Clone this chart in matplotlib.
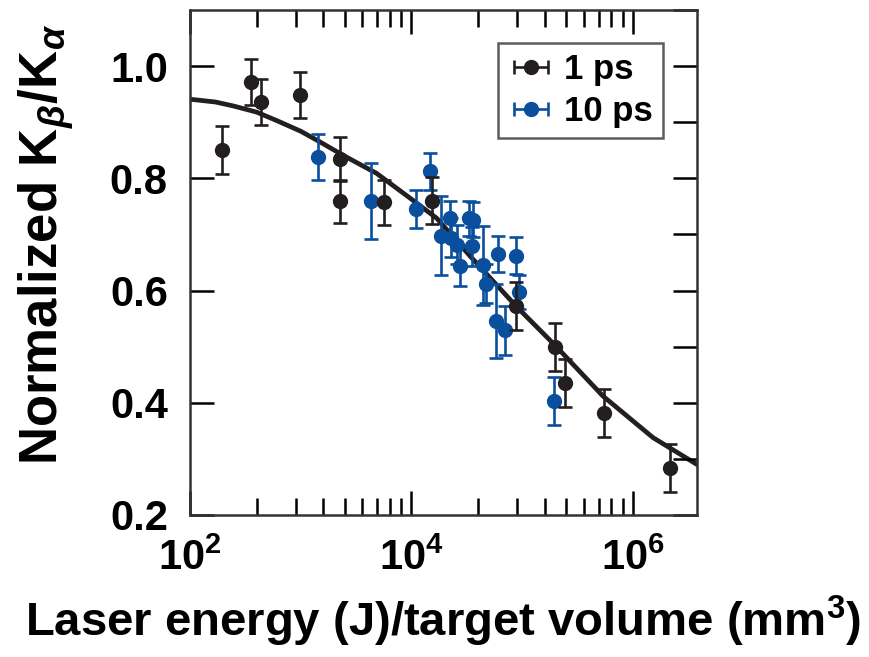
import numpy as np
import matplotlib
matplotlib.use("Agg")
import matplotlib.pyplot as plt
from matplotlib.ticker import FixedLocator, MultipleLocator, NullFormatter

# ==== data ====
# 1 ps shots
x_1ps = [196, 353, 437, 984, 2260, 2260, 5640, 15400, 88800, 197000, 246000, 545000, 2.18e6]
y_1ps = [0.850, 0.971, 0.936, 0.948, 0.835, 0.759, 0.757, 0.760, 0.572, 0.500, 0.435, 0.382, 0.284]
e_1ps = [0.043, 0.041, 0.041, 0.041, 0.039, 0.038, 0.040, 0.042, 0.043, 0.043, 0.043, 0.043, 0.043]

# 10 ps shots
x_10ps = [1420, 4300, 11100, 14800, 18400, 22200, 23000, 25800, 27300, 33200,
          36100, 34900, 44400, 47600, 60600, 88800, 93800, 57800, 69700, 193000]
y_10ps = [0.838, 0.760, 0.745, 0.813, 0.698, 0.729, 0.694, 0.682, 0.644, 0.729,
          0.726, 0.679, 0.645, 0.612, 0.665, 0.662, 0.597, 0.545, 0.529, 0.403]
e_10ps = [0.041, 0.068, 0.034, 0.033, 0.070, 0.030, 0.035, 0.035, 0.035, 0.031,
          0.031, 0.035, 0.070, 0.035, 0.032, 0.033, 0.030, 0.066, 0.043, 0.043]

# fit curve
x_fit = [100, 170, 246, 400, 606, 1000, 1490, 2420, 4840, 9680, 16900, 33700, 89400,
         197000, 537000, 1.52e6, 3.8e6]
y_fit = [0.941, 0.936, 0.929, 0.918, 0.903, 0.884, 0.865, 0.841, 0.809, 0.765, 0.729,
         0.662, 0.571, 0.503, 0.412, 0.338, 0.290]

labels = ['1 ps', '10 ps']

BLACK = '#231f20'
BLUE = '#0a4f9e'

plt.rcParams['font.family'] = ['Liberation Sans', 'DejaVu Sans']
plt.rcParams['font.weight'] = 'bold'
plt.rcParams['mathtext.fontset'] = 'custom'
plt.rcParams['mathtext.rm'] = 'Liberation Sans:bold'
plt.rcParams['mathtext.bf'] = 'Liberation Sans:bold'
plt.rcParams['mathtext.it'] = 'Liberation Sans:italic'

fig = plt.figure(figsize=(8.69, 6.57), dpi=100)
ax = fig.add_axes([190/869, 1 - 515/657, 507/869, 505/657])

ax.plot(x_fit, y_fit, color=BLACK, lw=3.4, zorder=1)

eb_kw = dict(fmt='o', ms=10, capsize=4.7, elinewidth=1.9, capthick=1.9)
ax.errorbar(x_10ps, y_10ps, yerr=e_10ps, color=BLUE, zorder=2, **eb_kw)
ax.errorbar(x_1ps, y_1ps, yerr=e_1ps, color=BLACK, zorder=3, **eb_kw)

# legend proxies with horizontal bars
h1 = ax.errorbar([1e3], [np.nan], xerr=[1], color=BLACK, **eb_kw)
h2 = ax.errorbar([1e3], [np.nan], xerr=[1], color=BLUE, **eb_kw)

ax.set_xscale('log')
ax.set_xlim(100, 3.8e6)
ax.set_ylim(0.2, 1.1)

majors = [1e2, 1e4, 1e6]
minors = [k**2 * 100**n for n in (1, 2, 3) for k in range(2, 10)]
ax.xaxis.set_major_locator(FixedLocator(majors))
ax.xaxis.set_minor_locator(FixedLocator(minors))
ax.xaxis.set_minor_formatter(NullFormatter())
ax.set_xticklabels([r'$10^{2}$', r'$10^{4}$', r'$10^{6}$'])

ax.yaxis.set_major_locator(FixedLocator([0.2, 0.4, 0.6, 0.8, 1.0]))
ax.yaxis.set_minor_locator(MultipleLocator(0.1))
ax.set_yticklabels(['0.2', '0.4', '0.6', '0.8', '1.0'])

ax.tick_params(axis='x', which='major', direction='in', top=True, length=17, width=1.8,
               labelsize=30, pad=17)
ax.tick_params(axis='x', which='minor', direction='in', top=True, length=12, width=1.8)
ax.tick_params(axis='y', which='major', direction='in', right=True, length=17, width=1.8,
               labelsize=30, pad=16)
ax.tick_params(axis='y', which='minor', direction='in', left=False, right=True, length=17, width=1.8)
for s in ax.spines.values():
    s.set_linewidth(1.8)
    s.set_color('#333333')

ax.set_xlabel('Laser energy (J)/target volume (mm$^{3}$)', fontsize=34, fontweight='bold', labelpad=11)
ax.set_ylabel(r'Normalized K$_{\beta}$/K$_{\alpha}$', fontsize=38, fontweight='bold')
ax.yaxis.set_label_coords(-0.225, 0.535)

leg = ax.legend([h1, h2], labels, loc='upper right', bbox_to_anchor=(0.933, 0.935),
                fontsize=25, frameon=True, fancybox=False, handlelength=1.3,
                handletextpad=0.3, borderpad=0.3, labelspacing=0.25, borderaxespad=0)
leg.get_frame().set_edgecolor('#333333')
leg.get_frame().set_linewidth(1.8)
for t in leg.get_texts():
    t.set_fontweight('bold')

fig.savefig('out.png', dpi=100)
